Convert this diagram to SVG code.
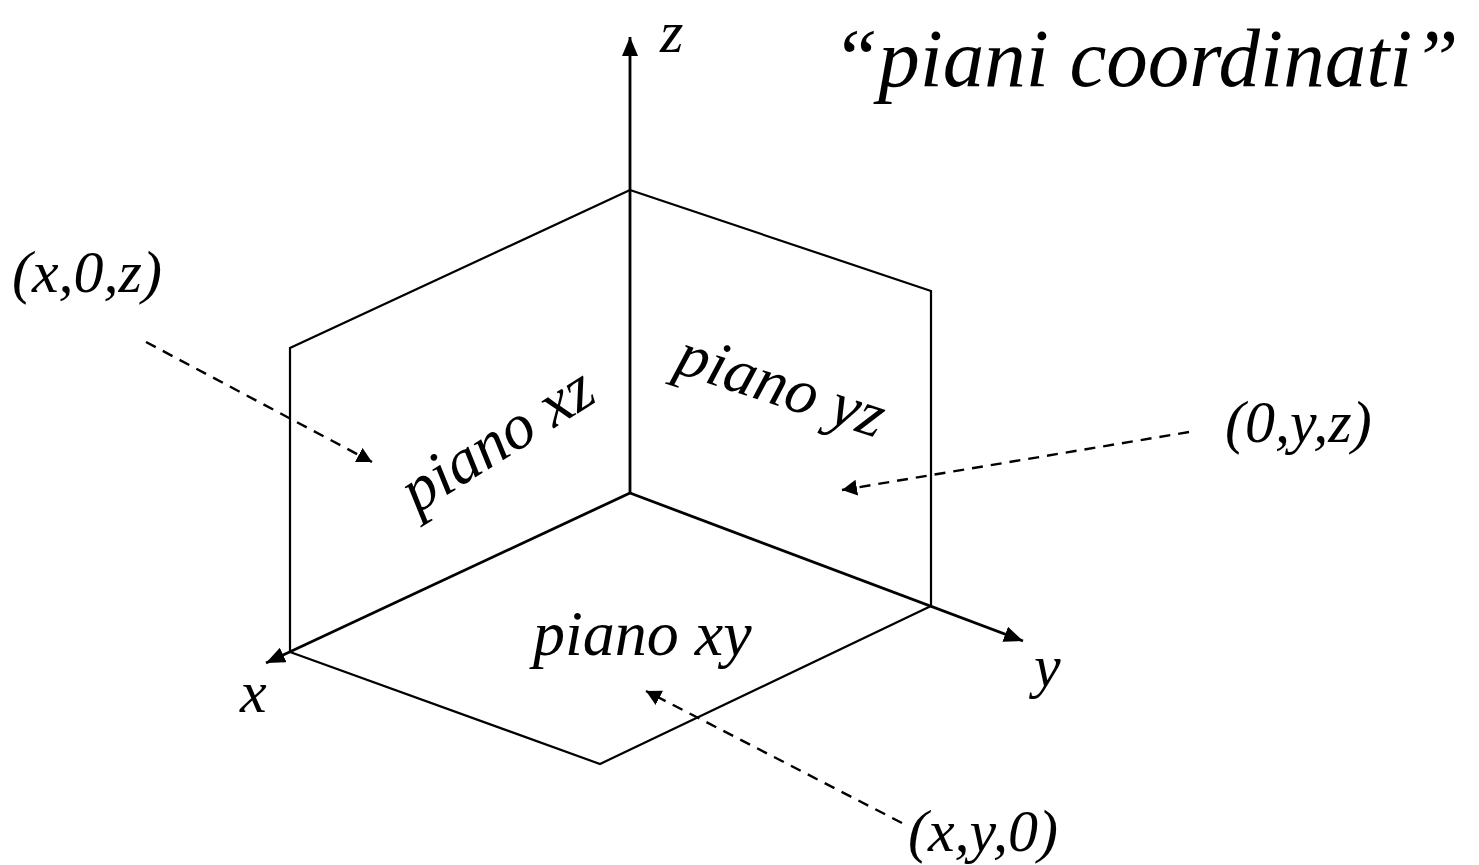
<svg xmlns="http://www.w3.org/2000/svg" width="1479" height="865" viewBox="0 0 1479 865">
<style>
text{font-family:"Liberation Serif","Times New Roman",serif;font-style:italic;fill:#000}
.edge{fill:none;stroke:#000;stroke-width:2.2;stroke-linejoin:miter}
.axis{fill:none;stroke:#000;stroke-width:2.8}
.dash{fill:none;stroke:#000;stroke-width:2.4;stroke-dasharray:11 8}
.lbl{font-size:60px}
.pl{font-size:64px}
</style>
<defs>
<marker id="ah" markerUnits="userSpaceOnUse" markerWidth="20" markerHeight="18" refX="19" refY="8" orient="auto">
<path d="M0,0 L19,8 L0,16 z" fill="#000"/>
</marker>
<marker id="dh" markerUnits="userSpaceOnUse" markerWidth="16" markerHeight="18" refX="15" refY="8" orient="auto">
<path d="M0,0 L15,8 L0,16 z" fill="#000"/>
</marker>
</defs>
<rect width="1479" height="865" fill="#fff"/>
<g id="plane-xz"><polyline class="edge" points="630,190 290,348 290,652"/></g>
<g id="plane-yz"><polyline class="edge" points="630,190 931,291 931,606"/></g>
<g id="plane-xy"><polyline class="edge" points="290,652 600,764 931,606"/></g>
<g id="connectors">
<line class="axis" x1="630" y1="493" x2="630" y2="37" marker-end="url(#ah)"/>
<line class="axis" x1="630" y1="493" x2="266" y2="663" marker-end="url(#ah)"/>
<line class="axis" x1="630" y1="493" x2="1023" y2="641" marker-end="url(#ah)"/>
<line class="dash" x1="146" y1="342" x2="372" y2="462" marker-end="url(#dh)"/>
<line class="dash" x1="1189" y1="432" x2="842" y2="490" marker-end="url(#dh)"/>
<line class="dash" x1="902" y1="823" x2="646" y2="691" marker-end="url(#dh)"/>
</g>
<g id="title"><text x="832" y="86" font-size="83">“piani coordinati”</text></g>
<g id="label-z"><text class="lbl" x="660" y="52">z</text></g>
<g id="label-x"><text class="lbl" x="240" y="712">x</text></g>
<g id="label-y"><text class="lbl" x="1034" y="686">y</text></g>
<g id="label-xz-pt"><text class="lbl" x="12" y="292">(x,0,z)</text></g>
<g id="label-yz-pt"><text class="lbl" x="1225" y="442">(0,y,z)</text></g>
<g id="label-xy-pt"><text class="lbl" x="908" y="851">(x,y,0)</text></g>
<g id="text-xz"><text class="pl" text-anchor="middle" transform="translate(508,457) rotate(-32)" font-size="60">piano xz</text></g>
<g id="text-yz"><text class="pl" text-anchor="middle" transform="translate(775,405) rotate(18)">piano yz</text></g>
<g id="text-xy"><text class="pl" x="533" y="655">piano xy</text></g>
</svg>
